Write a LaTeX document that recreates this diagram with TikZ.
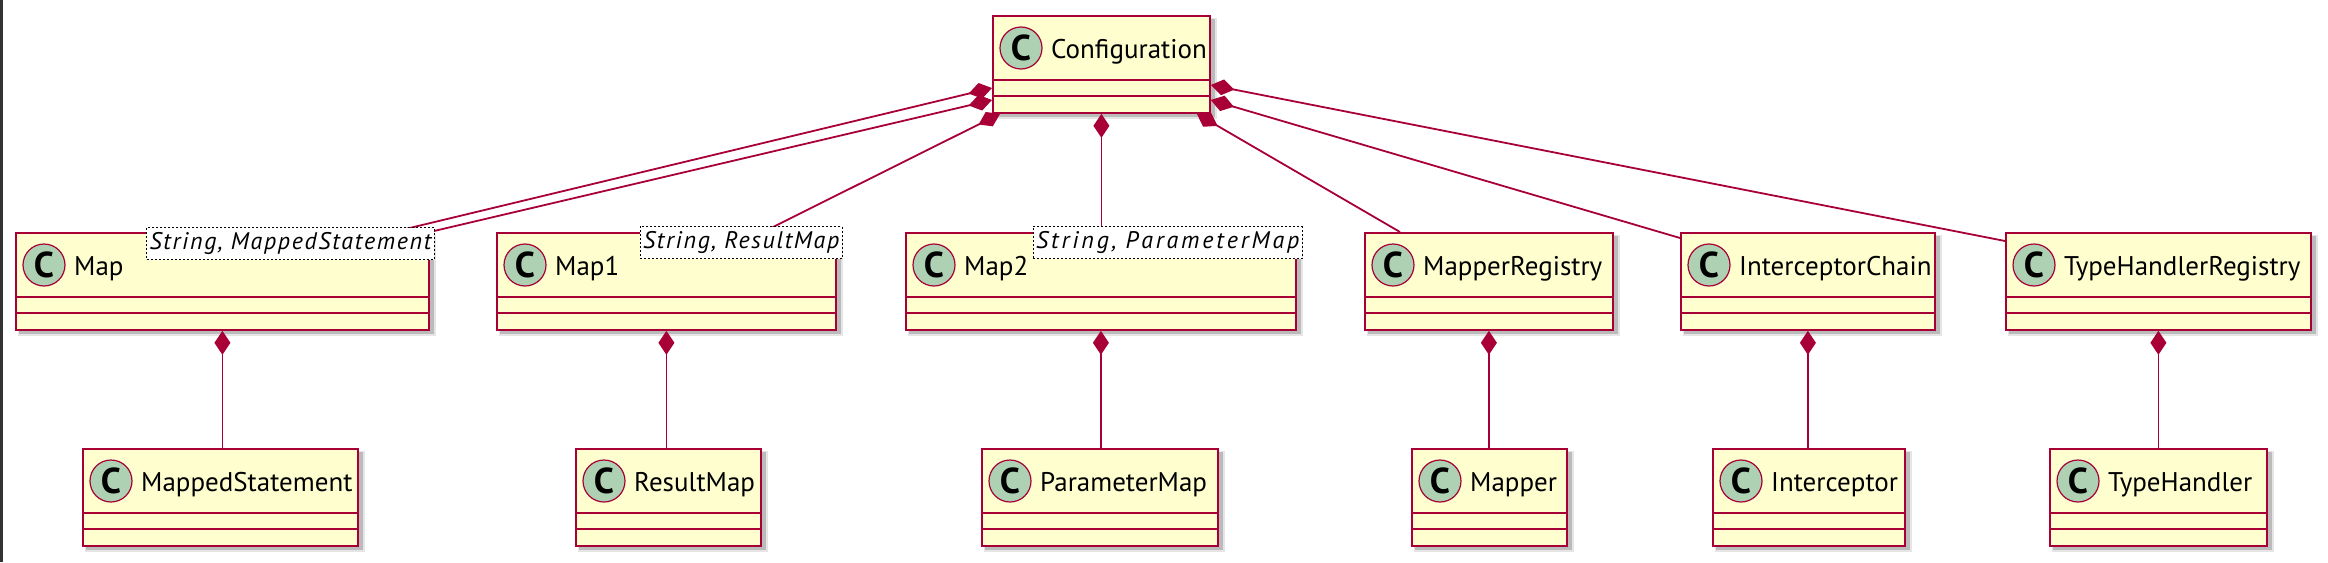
\documentclass[tikz,border=0pt]{standalone}
\usepackage{fontspec}
\setmainfont{PT Sans}
\usetikzlibrary{arrows.meta,calc}
\definecolor{umlred}{HTML}{A80036}
\definecolor{umlfill}{HTML}{FEFECE}
\definecolor{umlcirc}{HTML}{ADD1B2}
\newfontfamily\genericfont[LetterSpace=7]{PT Sans}
\newfontfamily\genericwidefont[LetterSpace=12]{PT Sans}
\tikzset{
 classbox/.style={draw=umlred, fill=umlfill, line width=1.8pt, rectangle, inner sep=0pt},
 sepline/.style={draw=umlred, line width=1.8pt},
 circbadge/.style={circle, draw=umlred, fill=umlcirc, line width=1.2pt, minimum size=42pt, inner sep=0pt, font=\fontsize{36}{36}\selectfont\bfseries},
 clsname/.style={anchor=base west, inner sep=0pt, font=\fontsize{27}{30}\selectfont},
 comp/.style={draw=umlred, line width=1.8pt, {Diamond[length=24pt,width=16pt,fill=umlred]}-},
 generic/.style={draw=black, dash pattern=on 2pt off 2pt, line width=1pt, fill=white, inner xsep=3pt, inner ysep=5.5pt, text height=16pt, text depth=5pt, anchor=north east, font=\genericfont\fontsize{24}{26}\selectfont\itshape},
 genericwide/.style={generic, font=\genericwidefont\fontsize{24}{26}\selectfont\itshape},
}
\newcommand\umlclass[5]{%
 \fill[black,opacity=0.10] (#2+3,#3+3) rectangle (#4+8,#3+104);
 \fill[black,opacity=0.18] (#2+4,#3+4) rectangle (#4+6,#3+102);
 \node[classbox, minimum width={#4-#2}, minimum height=97, anchor=north west] (#1) at (#2,#3) {};
 \draw[sepline] ($(#1.north west)+(0,65)$) -- ($(#1.north east)+(0,65)$);
 \draw[sepline] ($(#1.north west)+(0,81)$) -- ($(#1.north east)+(0,81)$);
 \node[circbadge] (#1-c) at ($(#1.north west)+(29,33)$) {C};
 \node[clsname] (#1-t) at ($(#1.north west)+(59,43)$) {#5};
}
\begin{document}
\begin{tikzpicture}[x=1pt,y=-1pt]
\useasboundingbox (0,0) rectangle (2328,562);
\fill[white] (0,0) rectangle (2328,562);
\fill[black!80] (0,0) rectangle (3,562);
% classes
\umlclass{cfg}{992}{15}{1209}{Configuration}
\umlclass{map}{15}{232}{428}{Map}
\umlclass{mapa}{496}{232}{835}{Map1}
\umlclass{mapb}{905}{232}{1295}{Map2}
\umlclass{mreg}{1364}{232}{1612}{MapperRegistry}
\umlclass{ichain}{1680}{232}{1934}{InterceptorChain}
\umlclass{threg}{2005}{232}{2310}{TypeHandlerRegistry}
\umlclass{mst}{82}{448}{357}{MappedStatement}
\umlclass{rmap}{575}{448}{760}{ResultMap}
\umlclass{pmap}{981}{448}{1217}{ParameterMap}
\umlclass{mapper}{1411}{448}{1566}{Mapper}
\umlclass{icpt}{1712}{448}{1904}{Interceptor}
\umlclass{thdl}{2049}{448}{2266}{TypeHandler}
% connectors from Configuration
\draw[comp] ($(cfg.north west)+(0,73)$) -- ($(map.north west)+(378,0)$);
\draw[comp] ($(cfg.north west)+(0,85)$) -- (map.north east);
\draw[comp] ($(cfg.south west)+(8,0)$) -- ($(mapa.north west)+(267,0)$);
\draw[comp] (cfg.south) -- (cfg.south |- mapb.north);
\draw[comp] ($(cfg.south east)+(-14,0)$) -- ($(mreg.north west)+(36,0)$);
\draw[comp] ($(cfg.north east)+(0,85)$) -- ($(ichain.north west)+(0,6)$);
\draw[comp] ($(cfg.north east)+(0,70)$) -- ($(threg.north west)+(0,9)$);
% connectors to the lower row
\draw[comp] (map.south) -- (map.south |- mst.north);
\draw[comp] (mapa.south) -- (mapa.south |- rmap.north);
\draw[comp] (mapb.south) -- (mapb.south |- pmap.north);
\draw[comp] (mreg.south) -- (mreg.south |- mapper.north);
\draw[comp] (ichain.south) -- (ichain.south |- icpt.north);
\draw[comp] (threg.south) -- (threg.south |- thdl.north);
% generic labels
\node[generic] (map-g) at ($(map.north east)+(5,-5)$) {String, MappedStatement};
\node[generic] (mapa-g) at ($(mapa.north east)+(6,-6)$) {String, ResultMap};
\node[genericwide] (mapb-g) at ($(mapb.north east)+(6,-6)$) {String, ParameterMap};
\end{tikzpicture}
\end{document}
